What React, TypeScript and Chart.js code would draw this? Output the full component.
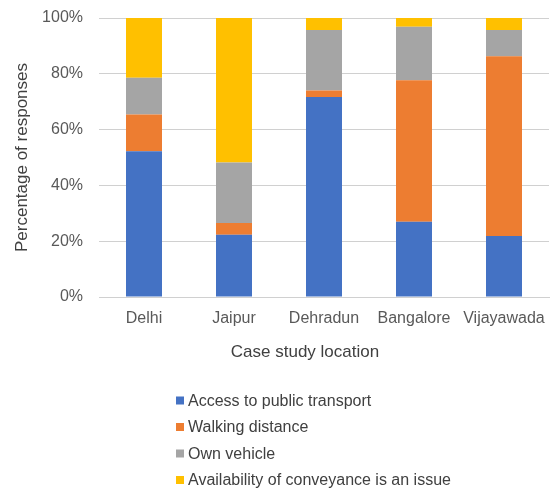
import React, { useEffect, useRef } from "react";
import { Chart, registerables } from "chart.js";

Chart.register(...registerables);

const categories = ["Delhi", "Jaipur", "Dehradun", "Bangalore", "Vijayawada"];
const accessToPublicTransport = [52.2, 22.3, 71.7, 27.0, 21.9];
const walkingDistance = [13.2, 4.2, 2.3, 50.7, 64.4];
const ownVehicle = [13.2, 21.7, 21.7, 19.2, 9.4];
const conveyanceIssue = [21.4, 51.8, 4.3, 3.1, 4.3];
const seriesLabels = [
  "Access to public transport",
  "Walking distance",
  "Own vehicle",
  "Availability of conveyance is an issue",
];
const seriesColors = ["#4472C4", "#ED7D31", "#A5A5A5", "#FFC000"];
const yTicks = [0, 20, 40, 60, 80, 100];
const xTitle = "Case study location";
const yTitle = "Percentage of responses";

const FONT = "'Liberation Sans', Arial, sans-serif";

const extras = {
  id: "extras",
  afterDraw(chart: any) {
    const ctx = chart.ctx;
    ctx.save();
    // x axis title, centred on the whole plot like the original
    ctx.font = `17px ${FONT}`;
    ctx.fillStyle = "#404040";
    ctx.textAlign = "center";
    ctx.textBaseline = "middle";
    ctx.fillText(xTitle, 305, 352);
    // vertical legend
    ctx.font = `16px ${FONT}`;
    ctx.textAlign = "left";
    chart.data.datasets.forEach((ds: any, i: number) => {
      const y = 400.5 + i * 26.5;
      ctx.fillStyle = ds.backgroundColor;
      ctx.fillRect(176, y - 4, 8, 8);
      ctx.fillStyle = "#404040";
      ctx.fillText(ds.label, 188, y + 1);
    });
    ctx.restore();
  },
};

export default function App() {
  const ref = useRef<HTMLCanvasElement | null>(null);

  useEffect(() => {
    document.body.style.margin = "0";
    if (!ref.current) return;
    const values = [accessToPublicTransport, walkingDistance, ownVehicle, conveyanceIssue];
    const chart = new Chart(ref.current, {
      type: "bar",
      data: {
        labels: categories,
        datasets: values.map((v, i) => ({
          label: seriesLabels[i],
          data: v,
          backgroundColor: seriesColors[i],
          borderWidth: 0,
          categoryPercentage: 1,
          barPercentage: 0.4,
        })),
      },
      options: {
        responsive: false,
        animation: false,
        layout: { padding: { left: 0, right: 1, top: 18, bottom: 127 } },
        plugins: {
          legend: { display: false },
          tooltip: { enabled: false },
        },
        scales: {
          x: {
            stacked: true,
            grid: { display: false, drawTicks: false },
            border: { display: true, color: "#D0D0D0", width: 1 },
            ticks: { color: "#595959", font: { family: FONT, size: 16 }, padding: 12, maxRotation: 0 },
            title: { display: false },
            afterFit: (scale: any) => {
              scale.height = 65;
              scale.paddingLeft = 0;
              scale.paddingRight = 0;
            },
          },
          y: {
            stacked: true,
            min: 0,
            max: 100,
            afterBuildTicks: (scale: any) => {
              scale.ticks = yTicks.map((v) => ({ value: v }));
            },
            grid: { color: "#D0D0D0", drawTicks: false },
            border: { display: false },
            ticks: {
              color: "#595959",
              font: { family: FONT, size: 16 },
              padding: 16,
              callback: (v: any) => `${v}%`,
            },
            title: {
              display: true,
              text: yTitle,
              color: "#404040",
              font: { family: FONT, size: 17 },
              padding: { top: 12, bottom: 0 },
            },
            afterFit: (scale: any) => {
              scale.width = 99;
              scale.paddingTop = 0;
              scale.paddingBottom = 0;
            },
          },
        },
      },
      plugins: [extras],
    });
    return () => chart.destroy();
  }, []);

  return (
    <div style={{ width: 550, height: 489 }}>
      <canvas ref={ref} width={550} height={489} style={{ display: "block" }} />
    </div>
  );
}
